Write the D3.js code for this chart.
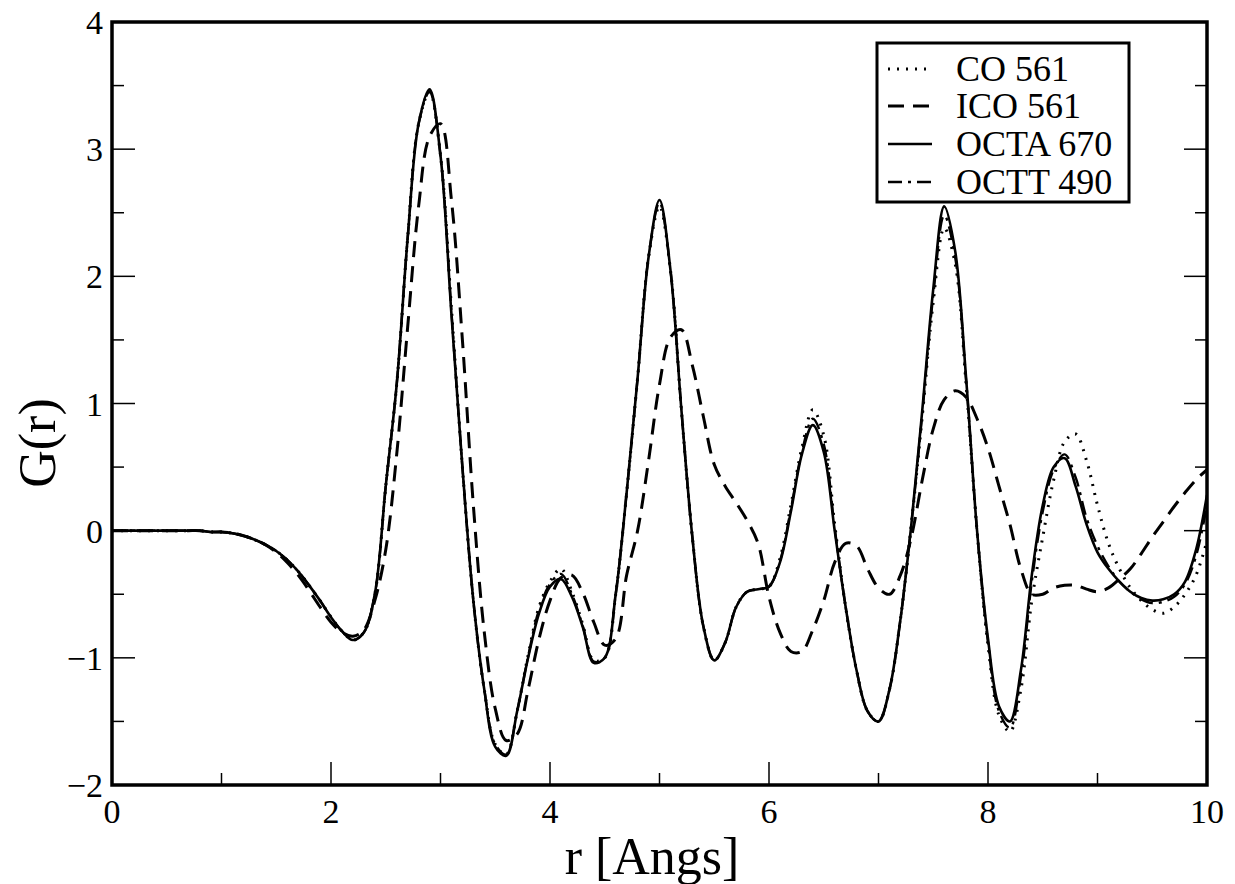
<!DOCTYPE html>
<html>
<head>
<meta charset="utf-8">
<script src="https://cdn.jsdelivr.net/npm/d3@7"></script>
<style>
  body { margin: 0; background: #fff; }
  svg { display: block; }
</style>
</head>
<body>
<div class="chart"></div>
<script>
// r grid in Angstrom
var rValues = [0.0, 0.1, 0.2, 0.3, 0.4, 0.5, 0.6, 0.7, 0.8, 0.9,
  1.0, 1.1, 1.2, 1.3, 1.4, 1.5, 1.6, 1.7, 1.8, 1.9,
  2.0, 2.1, 2.2, 2.3, 2.4, 2.5, 2.6, 2.7, 2.8, 2.9,
  3.0, 3.1, 3.2, 3.3, 3.4, 3.5, 3.6, 3.7, 3.8, 3.9,
  4.0, 4.1, 4.2, 4.3, 4.4, 4.5, 4.6, 4.7, 4.8, 4.9,
  5.0, 5.1, 5.2, 5.3, 5.4, 5.5, 5.6, 5.7, 5.8, 5.9,
  6.0, 6.1, 6.2, 6.3, 6.4, 6.5, 6.6, 6.7, 6.8, 6.9,
  7.0, 7.1, 7.2, 7.3, 7.4, 7.5, 7.6, 7.7, 7.8, 7.9,
  8.0, 8.1, 8.2, 8.3, 8.4, 8.5, 8.6, 8.7, 8.8, 8.9,
  9.0, 9.1, 9.2, 9.3, 9.4, 9.5, 9.6, 9.7, 9.8, 9.9, 10.0];

var coValues = [0, 0, 0, 0, 0, 0, 0, 0, 0, -0.01,
  -0.01, -0.02, -0.04, -0.07, -0.11, -0.16, -0.23, -0.32, -0.43, -0.55,
  -0.68, -0.79, -0.86, -0.8, -0.5, 0.35, 1.15, 2.3, 3.2, 3.45,
  2.95, 1.75, 0.5, -0.55, -1.25, -1.68, -1.76, -1.42, -0.98, -0.6,
  -0.4, -0.3, -0.48, -0.74, -1.02, -1.0, -0.5, 0.3, 1.2, 2.15,
  2.55, 2.05, 0.95, -0.05, -0.75, -1.02, -0.88, -0.6, -0.48, -0.46,
  -0.44, -0.22, 0.2, 0.65, 0.95, 0.75, 0.05, -0.6, -1.1, -1.42,
  -1.5, -1.25, -0.7, 0.05, 0.9, 1.8, 2.38, 2.1, 1.15, 0.0,
  -0.9, -1.45, -1.58, -1.25, -0.55, -0.05, 0.4, 0.7, 0.76, 0.55,
  0.2, -0.1, -0.3, -0.45, -0.55, -0.62, -0.65, -0.6, -0.5, -0.35, -0.08];

var icoValues = [0, 0, 0, 0, 0, 0, 0, 0, 0, -0.01,
  -0.01, -0.02, -0.04, -0.07, -0.11, -0.17, -0.25, -0.35, -0.47, -0.6,
  -0.72, -0.8, -0.83, -0.78, -0.55, -0.15, 0.6, 1.6, 2.55, 3.1,
  3.2, 2.6, 1.5, 0.2, -0.8, -1.4, -1.65, -1.6, -1.25, -0.85,
  -0.55, -0.37, -0.35, -0.49, -0.72, -0.9, -0.85, -0.35, 0.0, 0.55,
  1.15, 1.52, 1.58, 1.3, 0.9, 0.52, 0.35, 0.22, 0.08, -0.1,
  -0.52, -0.8, -0.95, -0.95, -0.78, -0.55, -0.25, -0.1, -0.12, -0.3,
  -0.45, -0.5, -0.35, -0.05, 0.4, 0.8, 1.03, 1.1, 1.05, 0.88,
  0.65, 0.35, 0.05, -0.3, -0.5, -0.5, -0.45, -0.43, -0.43, -0.46,
  -0.48, -0.45, -0.38, -0.3, -0.18, -0.05, 0.07, 0.19, 0.3, 0.4, 0.48];

var octaValues = [0, 0, 0, 0, 0, 0, 0, 0, 0, -0.01,
  -0.01, -0.02, -0.04, -0.07, -0.11, -0.16, -0.23, -0.32, -0.43, -0.55,
  -0.68, -0.79, -0.86, -0.8, -0.5, 0.35, 1.15, 2.3, 3.2, 3.47,
  2.95, 1.7, 0.5, -0.55, -1.25, -1.7, -1.77, -1.42, -1.0, -0.65,
  -0.44, -0.38, -0.52, -0.76, -1.04, -1.0, -0.5, 0.3, 1.2, 2.15,
  2.6, 2.05, 0.95, -0.05, -0.75, -1.02, -0.88, -0.6, -0.48, -0.46,
  -0.44, -0.25, 0.15, 0.6, 0.83, 0.62, 0.0, -0.6, -1.1, -1.42,
  -1.5, -1.25, -0.7, 0.05, 0.95, 1.9, 2.55, 2.2, 1.2, 0.0,
  -0.85, -1.38, -1.5, -1.1, -0.35, 0.2, 0.5, 0.57, 0.35, 0.05,
  -0.17, -0.3, -0.4, -0.48, -0.53, -0.55, -0.54, -0.5, -0.4, -0.15, 0.28];

var octtValues = [0, 0, 0, 0, 0, 0, 0, 0, 0, -0.01,
  -0.01, -0.02, -0.04, -0.07, -0.11, -0.16, -0.23, -0.32, -0.43, -0.55,
  -0.68, -0.79, -0.86, -0.8, -0.5, 0.35, 1.15, 2.3, 3.2, 3.45,
  2.95, 1.72, 0.5, -0.55, -1.25, -1.68, -1.76, -1.42, -0.99, -0.62,
  -0.42, -0.34, -0.5, -0.75, -1.03, -1.0, -0.5, 0.3, 1.2, 2.15,
  2.58, 2.05, 0.95, -0.05, -0.75, -1.02, -0.88, -0.6, -0.48, -0.46,
  -0.44, -0.24, 0.17, 0.62, 0.88, 0.68, 0.02, -0.6, -1.1, -1.42,
  -1.5, -1.25, -0.7, 0.05, 0.92, 1.85, 2.48, 2.15, 1.18, 0.0,
  -0.88, -1.42, -1.55, -1.15, -0.4, 0.15, 0.48, 0.6, 0.42, 0.1,
  -0.12, -0.28, -0.4, -0.48, -0.54, -0.57, -0.56, -0.52, -0.42, -0.2, 0.2];

var seriesNames = ['CO 561', 'ICO 561', 'OCTA 670', 'OCTT 490'];
var xTicks = [0, 2, 4, 6, 8, 10];
var yTicks = [-2, -1, 0, 1, 2, 3, 4];

var serif = '"Liberation Serif", "Times New Roman", Times, serif';

function init() {
  var width = 1235,
      height = 884,
      left = 112,
      right = 1207,
      top = 22,
      bottom = 785;

  var x = d3.scaleLinear().domain([0, 10]).range([left, right]);
  var y = d3.scaleLinear().domain([-2, 4]).range([bottom, top]);

  var svg = d3.select('.chart')
    .append('svg')
      .attr('width', width)
      .attr('height', height)
      .attr('font-family', serif);

  var styles = [
    { dash: '2,7', w: 3 },
    { dash: '16,9', w: 3 },
    { dash: null, w: 2.6 },
    { dash: '14,6,3,6', w: 2.4 }
  ];

  var allSeries = [coValues, icoValues, octaValues, octtValues];

  svg.append('clipPath').attr('id', 'clip')
    .append('rect')
      .attr('x', left).attr('y', top)
      .attr('width', right - left).attr('height', bottom - top);

  var line = d3.line()
    .x(function(d, i) { return x(rValues[i]); })
    .y(function(d) { return y(d); })
    .curve(d3.curveCatmullRom.alpha(0.5));

  var plot = svg.append('g').attr('clip-path', 'url(#clip)');
  // ICO first so the three near-identical curves sit on top
  [1, 3, 0, 2].forEach(function(k) {
    plot.append('path')
      .attr('d', line(allSeries[k]))
      .attr('fill', 'none')
      .attr('stroke', '#000')
      .attr('stroke-width', styles[k].w)
      .attr('stroke-dasharray', styles[k].dash)
      .attr('stroke-linejoin', 'round');
  });

  // inward ticks on bottom, left and right
  svg.append('g').selectAll('line')
    .data(d3.range(1, 10, 1))
    .enter().append('line')
      .attr('x1', function(d) { return x(d); })
      .attr('x2', function(d) { return x(d); })
      .attr('y1', bottom)
      .attr('y2', function(d) { return bottom - (d % 2 === 0 ? 23 : 12); })
      .attr('stroke', '#000').attr('stroke-width', 1.5);

  var yMinor = d3.range(-1.5, 4, 0.5);
  [left, right].forEach(function(px) {
    var dir = px === left ? 1 : -1;
    svg.append('g').selectAll('line')
      .data(yMinor)
      .enter().append('line')
        .attr('x1', px)
        .attr('x2', function(d) { return px + dir * (Math.abs(d % 1) < 1e-9 ? 23 : 12); })
        .attr('y1', function(d) { return y(d); })
        .attr('y2', function(d) { return y(d); })
        .attr('stroke', '#000').attr('stroke-width', 1.5);
  });

  svg.append('rect')
    .attr('x', left).attr('y', top)
    .attr('width', right - left).attr('height', bottom - top)
    .attr('fill', 'none').attr('stroke', '#000').attr('stroke-width', 3.5);

  svg.append('g').selectAll('text')
    .data(xTicks)
    .enter().append('text')
      .attr('x', function(d) { return x(d); })
      .attr('y', bottom + 38)
      .attr('text-anchor', 'middle')
      .attr('font-family', serif)
      .attr('font-size', 34)
      .text(function(d) { return d; });

  svg.append('g').selectAll('text')
    .data(yTicks)
    .enter().append('text')
      .attr('x', left - 9)
      .attr('y', function(d) { return y(d) + 12; })
      .attr('text-anchor', 'end')
      .attr('font-family', serif)
      .attr('font-size', 34)
      .text(function(d) { return d < 0 ? '\u2212' + Math.abs(d) : d; });

  svg.append('text')
    .attr('x', 652)
    .attr('y', 874)
    .attr('text-anchor', 'middle')
    .attr('font-family', serif)
    .attr('font-size', 52)
    .text('r [Angs]');

  svg.append('text')
    .attr('transform', 'translate(55,443) rotate(-90)')
    .attr('text-anchor', 'middle')
    .attr('font-family', serif)
    .attr('font-size', 52)
    .text('G(r)');

  // legend
  var legend = svg.append('g');
  legend.append('rect')
    .attr('x', 877).attr('y', 43)
    .attr('width', 252).attr('height', 159)
    .attr('fill', '#fff').attr('stroke', '#000').attr('stroke-width', 3);

  var rowY = [69, 106, 144, 182];
  seriesNames.forEach(function(name, k) {
    legend.append('line')
      .attr('x1', 888).attr('x2', 932)
      .attr('y1', rowY[k]).attr('y2', rowY[k])
      .attr('stroke', '#000')
      .attr('stroke-width', styles[k].w)
      .attr('stroke-dasharray', styles[k].dash);
    legend.append('text')
      .attr('x', 956).attr('y', rowY[k] + 12)
      .attr('font-family', serif)
      .attr('font-size', 36)
      .text(name);
  });
}

d3.select(window).on('load', init);
</script>
</body>
</html>
